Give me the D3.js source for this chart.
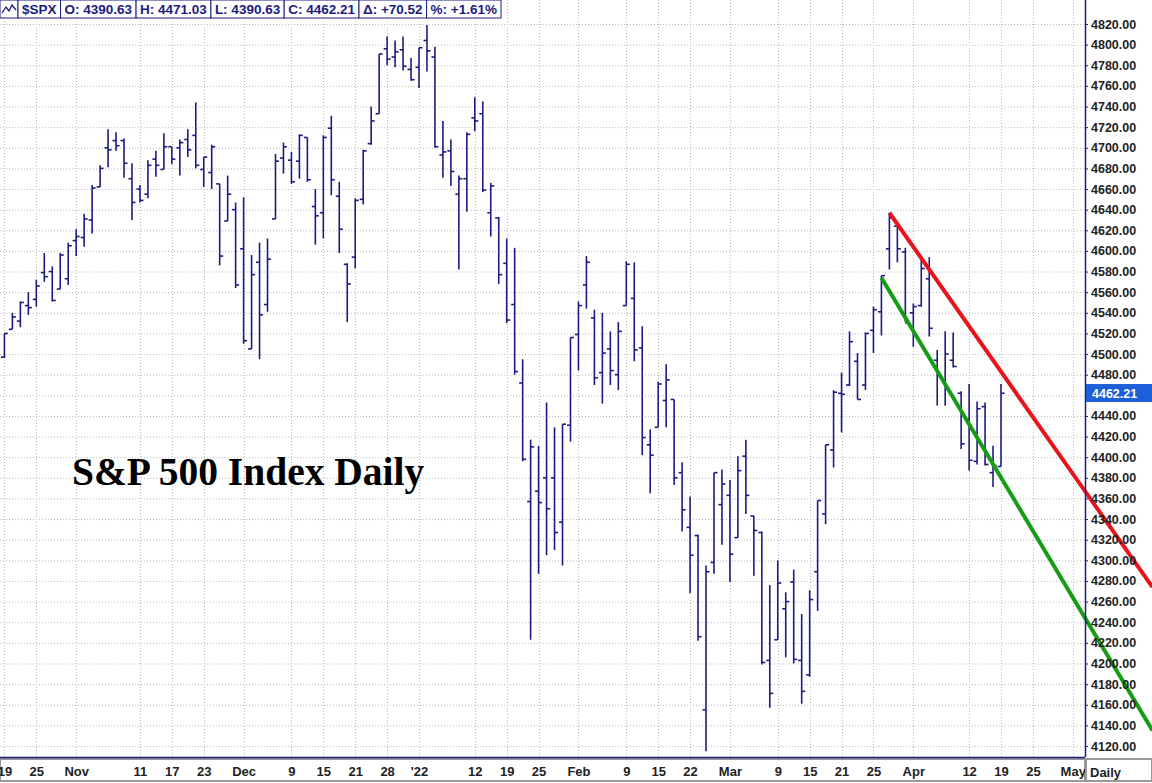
<!DOCTYPE html>
<html><head><meta charset="utf-8">
<script src="https://cdn.jsdelivr.net/npm/d3@7"></script>
<style>body{margin:0;background:#fff}svg{display:block}</style>
</head><body><svg id="c" width="1152" height="783"></svg>
<script>
const opens=[4463,4497,4524,4532,4547,4553,4579,4580,4563,4573,
4610,4613,4630,4662,4700,4707,4707,4670,4660,4655,4689,4679,4701,4700,4708,4712,4679,4676,4665,4629,4640,
4602,4505,4589,4548,4631,4690,4688,4687,4710,4643,4637,4719,4653,4587,4594,4650,4704,4733,4796,4788,4795,4776,
4778,4804,4788,4693,4697,4655,4670,4729,4733,4637,4632,4588,4548,4472,4357,4367,4380,4380,4337,4431,
4519,4567,4535,4482,4505,4480,4547,4554,4506,4412,4429,4455,4456,4385,4332,4324,4155,4298,4354,
4363,4322,4401,4343,4327,4203,4223,4253,4279,4203,4189,4289,4345,4407,4462,4470,4493,4470,4523,4541,4602,4624,4599,
4540,4547,4573,4494,4474,4494,4462,4437,4396,4449,4385,4391];
const highs=[4488,4520,4540,4551,4560,4572,4598,4585,4598,4608,
4621,4636,4664,4683,4718,4715,4709,4685,4664,4688,4697,4714,4701,4708,4718,4744,4691,4703,4665,4673,4647,
4652,4596,4608,4612,4694,4705,4696,4713,4710,4660,4712,4731,4667,4588,4651,4698,4740,4791,4808,4804,4808,4787,
4797,4819,4798,4726,4708,4673,4715,4749,4745,4666,4633,4612,4603,4495,4417,4411,4453,4429,4432,4516,
4551,4595,4543,4540,4522,4531,4590,4589,4527,4427,4473,4490,4456,4395,4362,4325,4295,4385,4388,
4378,4401,4417,4343,4328,4276,4300,4269,4291,4248,4271,4358,4412,4465,4482,4522,4501,4521,4546,4576,4637,4627,4603,
4549,4593,4594,4504,4522,4521,4464,4471,4454,4453,4411,4471];
const lows=[4447,4496,4524,4526,4538,4546,4570,4551,4563,4567,
4595,4604,4617,4662,4681,4697,4671,4630,4647,4651,4672,4679,4684,4673,4691,4680,4662,4660,4586,4629,4564,
4510,4505,4495,4541,4631,4675,4665,4670,4667,4606,4612,4654,4598,4531,4583,4645,4703,4733,4780,4778,4775,4765,
4758,4774,4700,4671,4663,4582,4638,4716,4657,4614,4568,4530,4480,4396,4223,4287,4305,4310,4295,4415,
4484,4544,4470,4452,4470,4465,4547,4493,4402,4365,4429,4429,4373,4328,4268,4222,4115,4287,4315,
4279,4322,4345,4285,4199,4157,4223,4206,4200,4161,4187,4251,4335,4390,4424,4469,4456,4465,4501,4518,4582,4589,4531,
4507,4546,4517,4450,4450,4487,4408,4387,4393,4392,4371,4391];
const closes=[4486,4520,4536,4550,4545,4566,4575,4552,4596,4605,
4614,4631,4661,4680,4698,4702,4685,4647,4649,4683,4683,4701,4689,4705,4698,4683,4691,4701,4595,4655,4567,
4513,4577,4538,4592,4687,4701,4667,4712,4669,4634,4710,4669,4621,4568,4649,4697,4726,4791,4786,4793,4779,4766,
4797,4794,4701,4696,4677,4670,4713,4726,4659,4663,4577,4533,4483,4398,4410,4356,4350,4327,4432,4516,
4547,4589,4477,4501,4484,4522,4587,4504,4419,4402,4471,4475,4380,4349,4305,4226,4289,4385,4374,
4306,4387,4363,4329,4201,4171,4278,4260,4204,4173,4262,4358,4412,4463,4461,4512,4456,4520,4543,4576,4632,4602,4530,
4546,4583,4525,4481,4500,4488,4413,4397,4447,4393,4392,4462];
const xTickIdx=[1,5,10,18,22,26,31,37,41,45,49,53,60,64,68,73,79,83,87,92,98,102,106,110,115,122,126,130,135];
const xTickLabels=["19","25","Nov","11","17","23","Dec","9","15","21","28","'22","12","19","25","Feb","9","15","22","Mar","9","15","21","25","Apr","12","19","25","May"];
const yTicks=d3.range(4120,4821,20);
const redLine=[[112,4637],[145,4274]];
const greenLine=[[111,4574],[145,4135]];
const header=["$SPX","O: 4390.63","H: 4471.03","L: 4390.63","C: 4462.21","Δ: +70.52","%: +1.61%"];
const lastClose=4462.21;

const svg=d3.select("#c");
const W=1085, Hb=757;
const x=d3.scaleLinear().domain([53,126]).range([419,1001]);
const y=d3.scaleLinear().domain([4120,4820]).range([746,24]);
const navy="#1c1c80";
const g=svg.append("g");
g.append("clipPath").attr("id","cp").append("rect").attr("x",0).attr("y",0).attr("width",W).attr("height",Hb);
const p=g.append("g").attr("clip-path","url(#cp)");
p.selectAll(".hg").data(yTicks).join("line").attr("x1",0).attr("x2",W).attr("y1",d=>y(d)+.5).attr("y2",d=>y(d)+.5)
 .attr("stroke","#bbb").attr("stroke-dasharray","1,2");
p.selectAll(".vg").data(xTickIdx).join("line").attr("x1",d=>Math.round(x(d))+.5).attr("x2",d=>Math.round(x(d))+.5).attr("y1",0).attr("y2",Hb)
 .attr("stroke","#bbb").attr("stroke-dasharray","1,2");
const idx=d3.range(closes.length);
const bars=p.selectAll(".b").data(idx).join("g").attr("stroke",navy).attr("stroke-width",1.6);
bars.append("line").attr("x1",i=>x(i)).attr("x2",i=>x(i)).attr("y1",i=>y(highs[i])).attr("y2",i=>y(lows[i]));
bars.append("line").attr("x1",i=>x(i)-3.5).attr("x2",i=>x(i)).attr("y1",i=>y(opens[i])).attr("y2",i=>y(opens[i]));
bars.append("line").attr("x1",i=>x(i)).attr("x2",i=>x(i)+3.5).attr("y1",i=>y(closes[i])).attr("y2",i=>y(closes[i]));
const ln=d3.line().x(d=>x(d[0])).y(d=>y(d[1]));
p.append("path").attr("d",ln(redLine)).attr("stroke","#e8141c").attr("stroke-width",4).attr("fill","none");
p.append("path").attr("d",ln(greenLine)).attr("stroke","#169c16").attr("stroke-width",4).attr("fill","none");
svg.append("clipPath").attr("id","cp2").append("rect").attr("x",W).attr("y",0).attr("width",80).attr("height",Hb);
svg.append("path").attr("d",ln(redLine)).attr("stroke","#e8141c").attr("stroke-width",4).attr("fill","none").attr("clip-path","url(#cp2)");
svg.append("path").attr("d",ln(greenLine)).attr("stroke","#169c16").attr("stroke-width",4).attr("fill","none").attr("clip-path","url(#cp2)");
svg.append("text").attr("x",72).attr("y",485).attr("font-family","Liberation Serif, Times New Roman, serif")
 .attr("font-weight","bold").attr("font-size",39.5).attr("fill","#000").text("S&P 500 Index Daily");
svg.append("line").attr("x1",W+.5).attr("x2",W+.5).attr("y1",0).attr("y2",Hb).attr("stroke",navy).attr("stroke-width",1.5);
const ya=d3.axisRight(y).tickValues(yTicks).tickSize(3).tickFormat(d3.format(".2f"));
const yg=svg.append("g").attr("transform",`translate(${W},0)`).call(ya);
yg.select(".domain").remove();
yg.selectAll("line").attr("stroke",navy);
yg.selectAll("text").attr("x",6).attr("font-family","Liberation Sans, Arial, sans-serif").attr("font-weight","bold").attr("font-size",12.5).attr("fill","#222");
svg.append("rect").attr("x",W+1).attr("y",y(lastClose)-9).attr("width",66).attr("height",18).attr("fill","#1d5fd8");
svg.append("text").attr("x",W+7).attr("y",y(lastClose)+4.5).attr("fill","#fff").attr("font-family","Liberation Sans, Arial, sans-serif")
 .attr("font-weight","bold").attr("font-size",12.5).text(lastClose.toFixed(2));
svg.append("rect").attr("x",0).attr("y",Hb+2).attr("width",W).attr("height",783-Hb-4).attr("fill","#fff").attr("stroke","#999").attr("stroke-width",2);
svg.append("line").attr("x1",0).attr("x2",W).attr("y1",Hb+.5).attr("y2",Hb+.5).attr("stroke",navy).attr("stroke-width",1.5);
const xa=d3.axisBottom(x).tickValues(xTickIdx).tickSize(0).tickFormat((d,i)=>xTickLabels[i]);
const xg=svg.append("g").attr("transform",`translate(0,${Hb+4})`).call(xa);
xg.select(".domain").remove();
xg.selectAll("text").attr("dy","0.9em").attr("font-family","Liberation Sans, Arial, sans-serif").attr("font-weight","bold").attr("font-size",13).attr("fill","#222");
svg.append("text").attr("x",W+5).attr("y",777).attr("font-family","Liberation Sans, Arial, sans-serif").attr("font-weight","bold").attr("font-size",13).attr("fill","#222").text("Daily");
svg.append("rect").attr("x",W+1).attr("y",Hb+2).attr("width",66).attr("height",783-Hb-4).attr("fill","none").attr("stroke","#999").attr("stroke-width",2);
const hg=svg.append("g");
hg.append("rect").attr("x",0).attr("y",0).attr("width",18).attr("height",18).attr("fill","#fff").attr("stroke",navy);
hg.append("path").attr("d","M2,13 L6,7 L9,11 L12,5 L16,10").attr("stroke",navy).attr("fill","none").attr("stroke-width",1.3);
let hx=18;
header.forEach(s=>{
 const tx=hg.append("text").attr("x",hx+4).attr("y",14).attr("font-family","Liberation Sans, Arial, sans-serif").attr("font-weight","bold").attr("font-size",13.5).attr("fill",navy).text(s);
 const w=tx.node().getComputedTextLength()+8;
 hg.insert("rect","text").attr("x",hx).attr("y",0).attr("width",w).attr("height",18).attr("fill","#fff").attr("stroke",navy);
 hx+=w;
});
</script></body></html>
